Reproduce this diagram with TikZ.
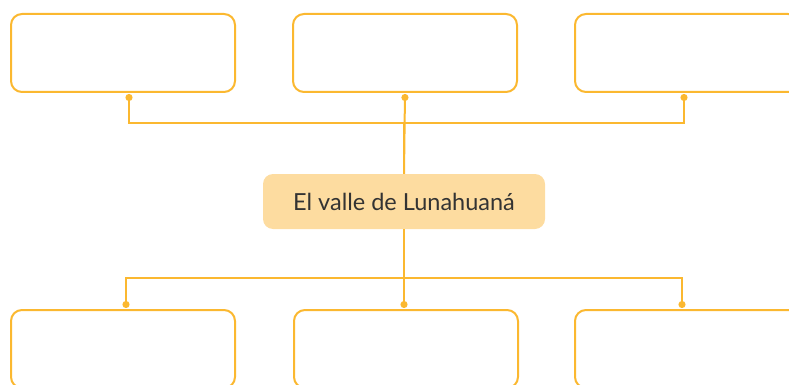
\documentclass[tikz,border=0pt]{standalone}
\usepackage{fontspec}
\setmainfont{Lato}
\usetikzlibrary{arrows.meta}
\definecolor{ln}{HTML}{FBB830}
\definecolor{cf}{HTML}{FDDCA0}
\definecolor{tx}{HTML}{333333}
\begin{document}
\begin{tikzpicture}[x=1pt,y=-1pt,
  emptybox/.style={draw=ln,line width=2pt,rounded corners=11pt,minimum width=224pt,minimum height=78pt,inner sep=0pt,fill=white},
  centerbox/.style={fill=cf,rounded corners=10pt,minimum width=282pt,minimum height=55pt,inner sep=0pt,text=tx,font=\fontsize{23.5}{27}\selectfont},
  conn/.style={draw=ln,line width=2pt,-{Circle[length=7pt]},shorten >=1pt}]
\useasboundingbox (0,0) rectangle (789,385);
\clip (0,0) rectangle (789,385);
\node[emptybox] (tl) at (123,53) {};
\node[emptybox] (tm) at (405,53) {};
\node[emptybox] (tr) at (687,53) {};
\node[emptybox] (bl) at (123,349) {};
\node[emptybox] (bm) at (406,349) {};
\node[emptybox] (br) at (687,349) {};
\node[centerbox] (c) at (404,201.5) {El valle de Lunahuaná};
\draw[conn] (c.north) -- (tm.south);
\draw[conn] (c.north) -- ++(0,-51) -| ([xshift=6pt]tl.south);
\draw[conn] (c.north) -- ++(0,-51) -| ([xshift=-3pt]tr.south);
\draw[conn] (c.south) -- ([xshift=-2pt]bm.north);
\draw[conn] (c.south) -- ++(0,49) -| ([xshift=3pt]bl.north);
\draw[conn] (c.south) -- ++(0,49) -| ([xshift=-5pt]br.north);
\end{tikzpicture}
\end{document}
